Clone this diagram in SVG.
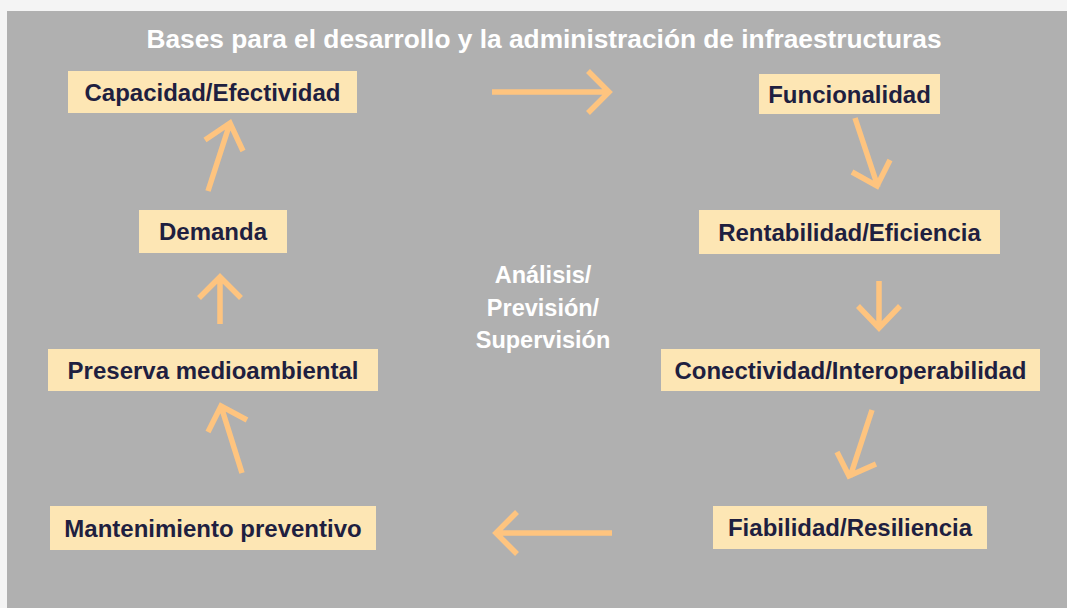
<svg xmlns="http://www.w3.org/2000/svg" width="1067" height="608" viewBox="0 0 1067 608">
<style>
.node rect{fill:#fde6b4}
.node text{font-family:"Liberation Sans",Arial,sans-serif;font-weight:bold;font-size:24px;fill:#1f1f40;text-anchor:middle}
.white{font-family:"Liberation Sans",Arial,sans-serif;font-weight:bold;fill:#ffffff;text-anchor:middle}
.conn path{fill:none;stroke:#fec47f;stroke-width:5.5;stroke-linecap:butt;stroke-linejoin:miter}
</style>
<rect x="0" y="0" width="1067" height="608" fill="#f4f4f4"/>
<rect x="7" y="11" width="1060" height="597" fill="#b0b0b0"/>
<text class="white" x="544" y="48" font-size="26.3">Bases para el desarrollo y la administración de infraestructuras</text>
<text class="white" font-size="23.5" x="543" y="283">Análisis/</text>
<text class="white" font-size="23.5" x="543" y="316">Previsión/</text>
<text class="white" font-size="23.5" x="543" y="348">Supervisión</text>
<g id="n-capacidad" class="node"><rect x="68" y="71" width="289" height="42"/><text x="212.5" y="100.6">Capacidad/Efectividad</text></g>
<g id="n-funcionalidad" class="node"><rect x="759" y="74" width="181" height="40"/><text x="849.5" y="102.6">Funcionalidad</text></g>
<g id="n-rentabilidad" class="node"><rect x="699" y="210" width="301" height="44"/><text x="849.5" y="240.6">Rentabilidad/Eficiencia</text></g>
<g id="n-conectividad" class="node"><rect x="661" y="349" width="379" height="42"/><text x="850.5" y="378.6">Conectividad/Interoperabilidad</text></g>
<g id="n-fiabilidad" class="node"><rect x="713" y="506" width="274" height="43"/><text x="850" y="536.1">Fiabilidad/Resiliencia</text></g>
<g id="n-mantenimiento" class="node"><rect x="50" y="506" width="326" height="44"/><text x="213" y="536.6">Mantenimiento preventivo</text></g>
<g id="n-preserva" class="node"><rect x="48" y="349" width="330" height="42"/><text x="213" y="378.6">Preserva medioambiental</text></g>
<g id="n-demanda" class="node"><rect x="139" y="210" width="148" height="43"/><text x="213" y="240.1">Demanda</text></g>
<g id="connectors" class="conn">
<path d="M492 92H610M588 71L609 92L588 113"/>
<path d="M855 118L878 187M852 172L877 186L890 160"/>
<path d="M879 281V329M858 306L879 328L900 306"/>
<path d="M872 410L850 477M837 452L849 476L876 464"/>
<path d="M612 533H495M517 512L496 533L517 554"/>
<path d="M242 473L221 406M208 432L221 406L247 420"/>
<path d="M220 324V277M199 298L220 277L241 298"/>
<path d="M208 191L230 123M205 140L230 123L243 151"/>
</g>
</svg>
